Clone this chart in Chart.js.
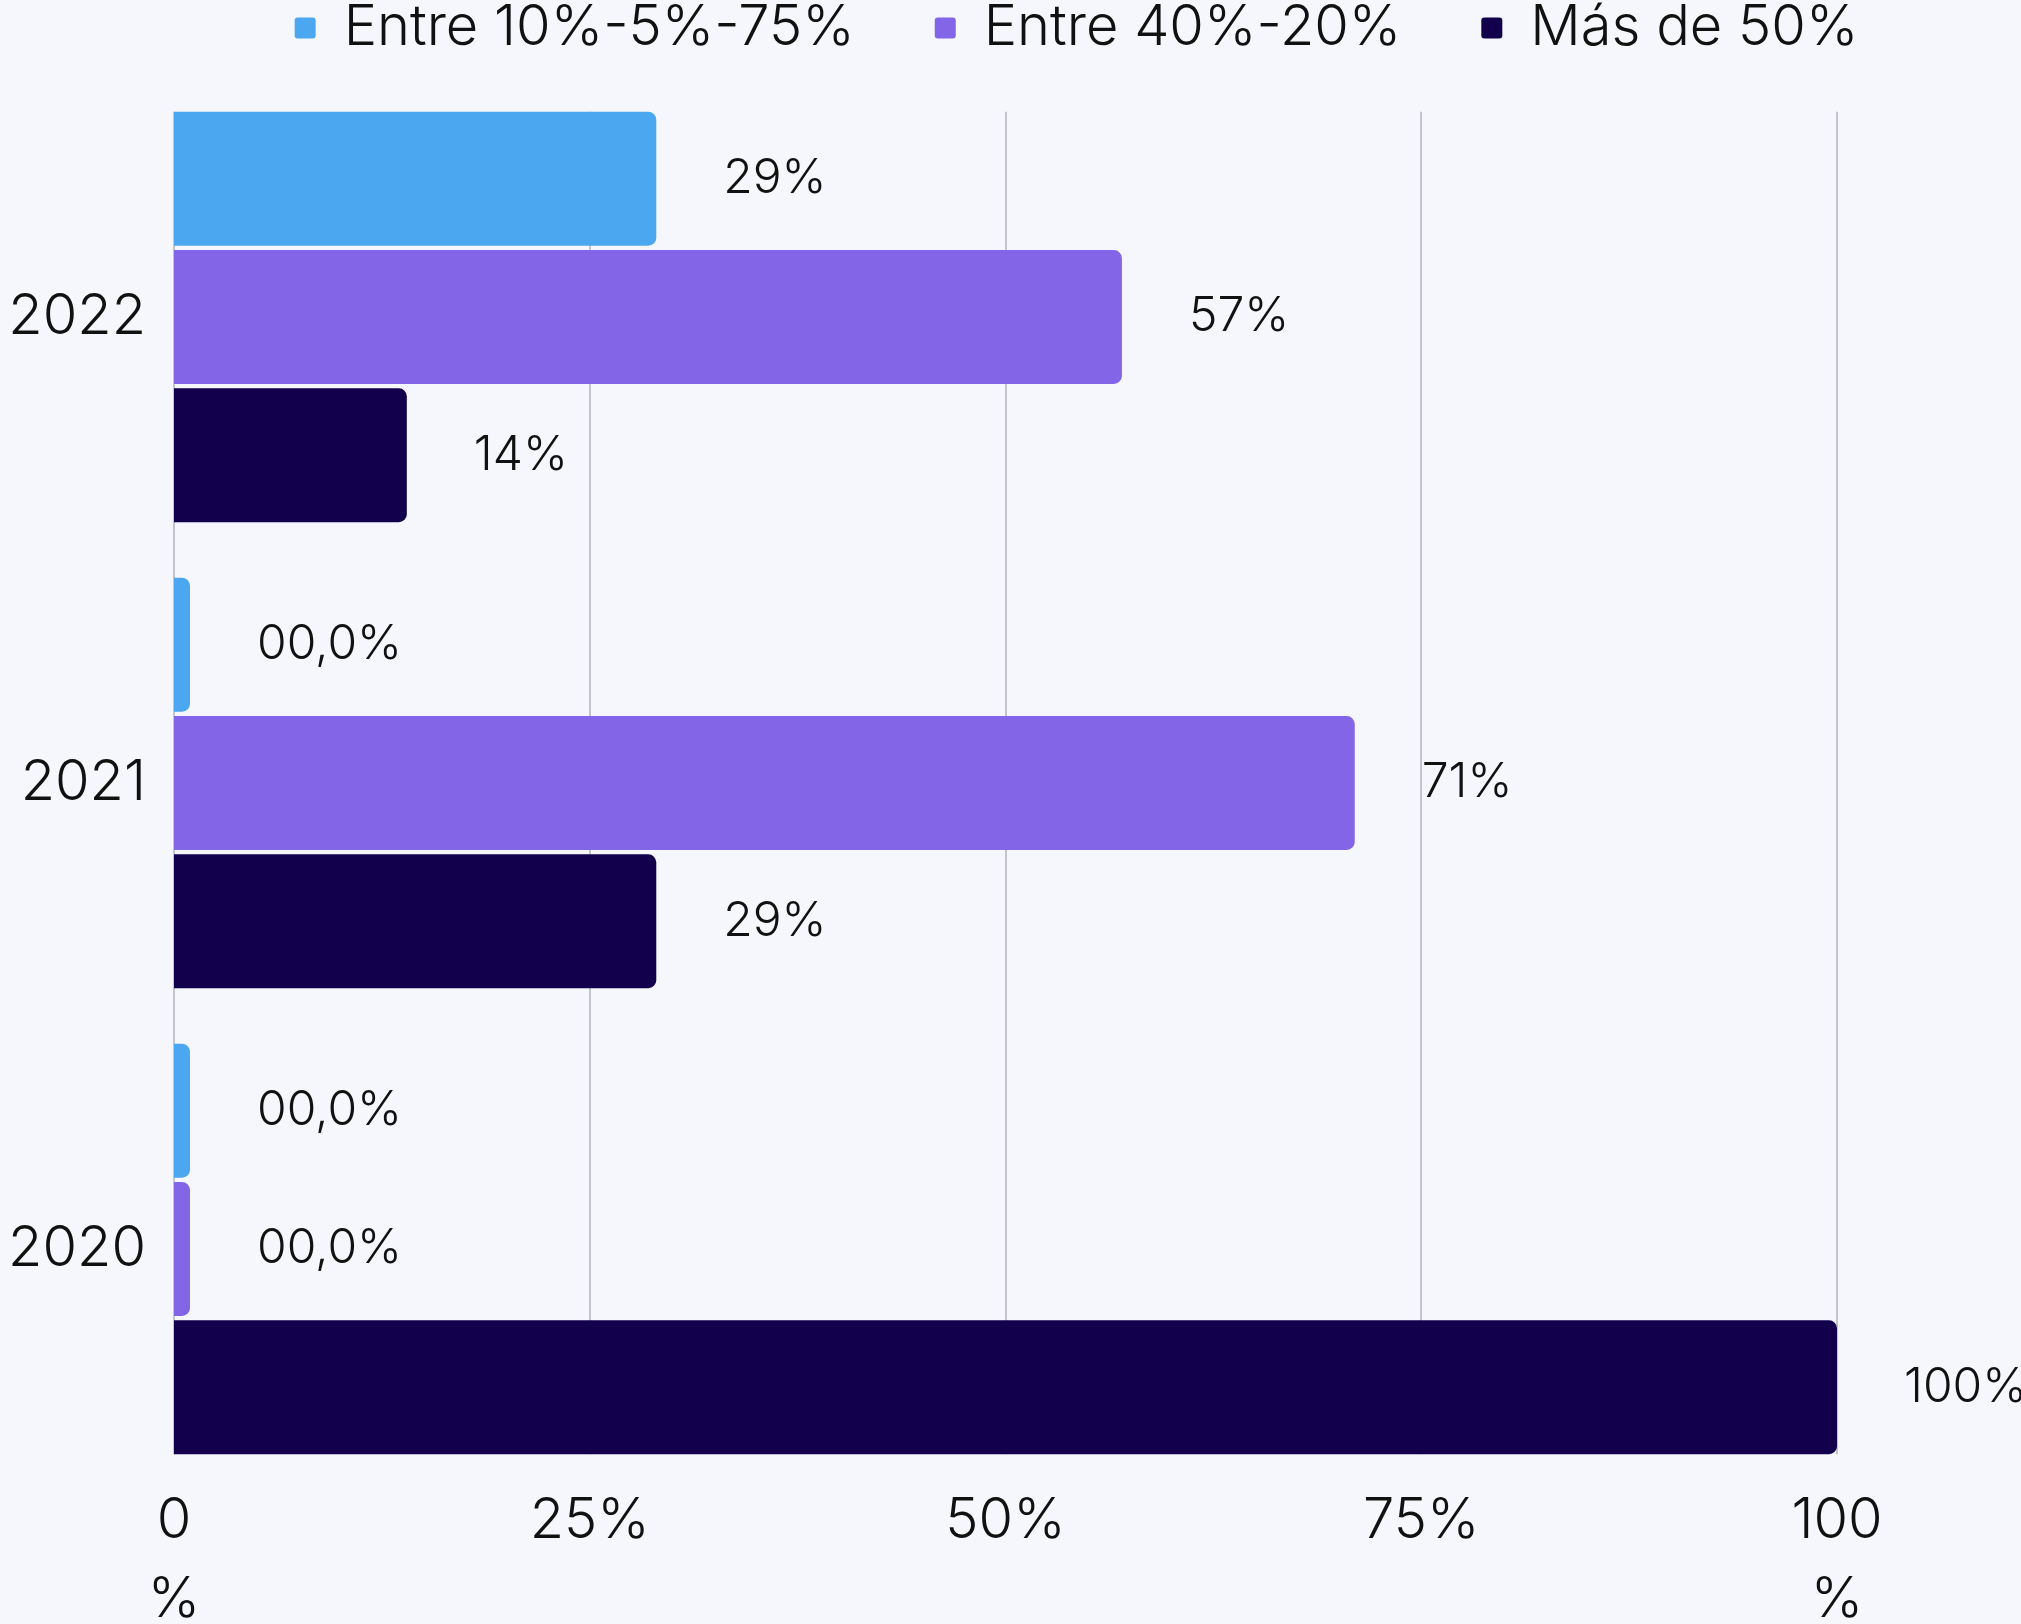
<!DOCTYPE html>
<html>
<head>
<meta charset="utf-8">
<script src="https://cdn.jsdelivr.net/npm/chart.js@4.4.1/dist/chart.umd.min.js"></script>
<style>
  html, body { margin: 0; padding: 0; background: #F5F7FC; }
  #wrap { width: 2021px; height: 1624px; position: relative; }
</style>
</head>
<body>
<div id="wrap"><canvas id="chart_rangosAnuales"></canvas></div>
<script>
// datos
var years = ['2022', '2021', '2020'];
var seriesNames = ['Entre 10%-5%-75%', 'Entre 40%-20%', 'Más de 50%'];
var serieBajo = [29, 0, 0];
var serieMedio = [57, 71, 0];
var serieAlto = [14, 29, 100];
var xTickValues = [0, 25, 50, 75, 100];
var xTickLabels = [['0', '%'], '25%', '50%', '75%', ['100', '%']];

var FONT = "Inter, 'Noto Sans', sans-serif";

function formatPct(v) {
    return v === 0 ? '00,0%' : v + '%';
}

var gridPlugin = {
    id: 'gridEntreBarras',
    beforeDatasetsDraw: function(chart) {
        var ctx = chart.ctx;
        var first = chart.getDatasetMeta(0).data[0];
        var lastMeta = chart.getDatasetMeta(chart.data.datasets.length - 1);
        var last = lastMeta.data[lastMeta.data.length - 1];
        var top = first.y - first.height / 2;
        var bottom = last.y + last.height / 2;
        var xScale = chart.scales.x;
        ctx.save();
        ctx.strokeStyle = '#C4C5CC';
        ctx.lineWidth = 2;
        xTickValues.forEach(function(v) {
            var px = Math.round(xScale.getPixelForValue(v));
            ctx.beginPath();
            ctx.moveTo(px, top);
            ctx.lineTo(px, bottom);
            ctx.stroke();
        });
        ctx.restore();
    }
};

var labelPlugin = {
    id: 'etiquetasValor',
    afterDatasetsDraw: function(chart) {
        var ctx = chart.ctx;
        ctx.save();
        ctx.font = '300 48px ' + FONT;
        ctx.fillStyle = '#111111';
        ctx.textAlign = 'left';
        ctx.textBaseline = 'middle';
        chart.data.datasets.forEach(function(ds, i) {
            chart.getDatasetMeta(i).data.forEach(function(bar, j) {
                ctx.fillText(formatPct(ds.data[j]), bar.x + 67, bar.y);
            });
        });
        ctx.restore();
    }
};

// la leyenda del original esta algo desplazada a la derecha
var legendShift = {
    id: 'leyendaDesplazada',
    afterLayout: function(chart) {
        chart.legend.left += 158;
        chart.legend.right += 158;
    }
};

var bgPlugin = {
    id: 'fondo',
    beforeDraw: function(chart) {
        var ctx = chart.canvas.getContext('2d');
        ctx.save();
        ctx.globalCompositeOperation = 'destination-over';
        ctx.fillStyle = '#F5F7FC';
        ctx.fillRect(0, 0, chart.canvas.width, chart.canvas.height);
        ctx.restore();
    }
};

var colors = ['#4BA7EF', '#8365E8', '#12004D'];
var values = [serieBajo, serieMedio, serieAlto];

var chart_rangosAnuales = new Chart(document.getElementById('chart_rangosAnuales'), {
    type: 'bar',
    data: {
        labels: years,
        datasets: seriesNames.map(function(name, i) {
            return {
                label: name,
                data: values[i],
                backgroundColor: colors[i],
                borderRadius: 8,
                borderSkipped: 'start',
                minBarLength: 16,
                categoryPercentage: 0.89,
                barPercentage: 0.968
            };
        })
    },
    options: {
        indexAxis: 'y',
        animation: false,
        responsive: true,
        maintainAspectRatio: false,
        layout: {
            padding: { left: 0, right: 184, top: -80, bottom: 0 }
        },
        plugins: {
            legend: {
                position: 'top',
                labels: {
                    color: '#111111',
                    font: { family: FONT, size: 56, weight: '300' },
                    boxWidth: 21,
                    boxHeight: 21,
                    useBorderRadius: true,
                    borderRadius: 3,
                    padding: 80
                }
            },
            title: {
                display: true,
                text: '',
                weight: 500,
                font: { size: 1, lineHeight: 1 },
                padding: { top: 17, bottom: 0 }
            },
            tooltip: { enabled: false }
        },
        scales: {
            x: {
                type: 'linear',
                min: 0,
                max: 100,
                grid: { display: false, drawTicks: false },
                border: { display: false },
                ticks: {
                    stepSize: 25,
                    autoSkip: false,
                    maxRotation: 0,
                    padding: 0,
                    color: '#111111',
                    font: { family: FONT, size: 56, weight: '300', lineHeight: 1.41 },
                    callback: function(value) {
                        var idx = xTickValues.indexOf(value);
                        return idx >= 0 ? xTickLabels[idx] : '';
                    }
                },
                afterFit: function(scale) { scale.height = 142; }
            },
            y: {
                grid: { display: false, drawTicks: false },
                border: { display: false },
                ticks: {
                    padding: 28,
                    color: '#111111',
                    font: { family: FONT, size: 56, weight: '300' }
                },
                afterFit: function(scale) { scale.width = 174; }
            }
        }
    },
    plugins: [bgPlugin, legendShift, gridPlugin, labelPlugin]
});
</script>
</body>
</html>
